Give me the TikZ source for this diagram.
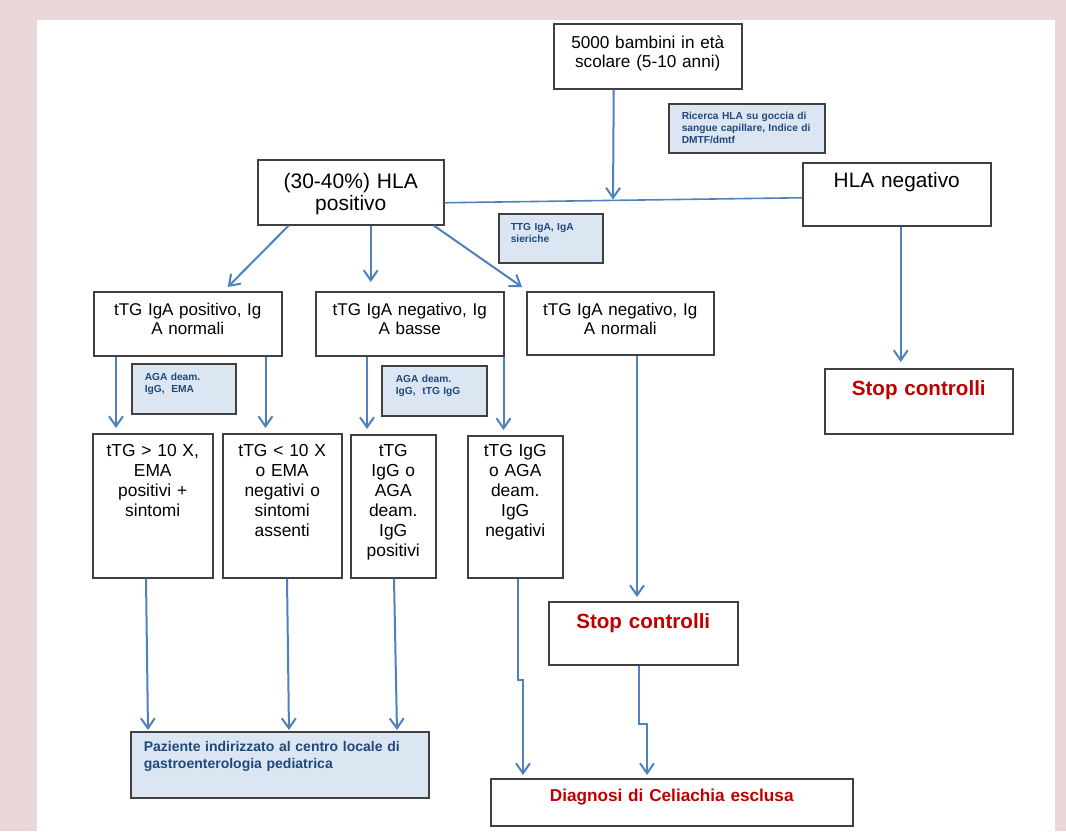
\documentclass[tikz,border=0pt]{standalone}
\usepackage{fontspec}
\setmainfont{Liberation Sans}
\usetikzlibrary{arrows.meta}
\definecolor{pinkbg}{HTML}{EAD7D8}
\definecolor{boxgray}{HTML}{404040}
\definecolor{arrowblue}{HTML}{4F81BD}
\definecolor{notefill}{HTML}{DCE6F2}
\definecolor{notetext}{HTML}{1F497D}
\definecolor{stopred}{HTML}{C00000}
\begin{document}
\begin{tikzpicture}[x=0.5pt,y=-0.5pt,
  box/.style={draw=boxgray, line width=0.75pt, fill=white, anchor=north west, inner sep=0pt, align=center},
  note/.style={box, fill=notefill, align=left, text=notetext, font=\bfseries\fontsize{5.1}{5.9}\selectfont},
  stopbox/.style={box, text=stopred, font=\bfseries\fontsize{10.3}{12}\selectfont},
  arr/.style={draw=arrowblue, line width=1pt, -{Straight Barb[length=5pt,width=7pt]}}]
\fill[pinkbg] (0,0) rectangle (1066,831);
\fill[white] (37,20) rectangle (1055,831);

\node[box, text width=94pt, text height=12.5pt, text depth=20pt, font=\fontsize{8.6}{9.2}\selectfont] (bambini) at (553,23) {5000 bambini in età\\scolare (5-10 anni)};
\node[note, inner xsep=6.5pt, text width=65pt, text height=8pt, text depth=16.5pt] (ricerca) at (668,103) {Ricerca HLA su goccia di\\sangue capillare, Indice di\\DMTF/dmtf};
\node[box, text width=93pt, text height=14.5pt, text depth=18pt, font=\fontsize{10.5}{11}\selectfont] (hlapos) at (257,159) {(30-40\%) HLA\\positivo};
\node[box, text width=94pt, text height=12.5pt, text depth=19pt, font=\fontsize{10.4}{12}\selectfont] (hlaneg) at (802,162) {HLA negativo};
\node[note, inner xsep=6pt, text width=40pt, text height=8.5pt, text depth=16pt] (sieriche) at (498,213) {TTG IgA, IgA\\sieriche};

% secondo livello
\node[box, text width=94pt, text height=12pt, text depth=20pt, font=\fontsize{8.5}{9.5}\selectfont] (posA) at (93,291) {tTG IgA positivo, Ig\\A normali};
\node[box, text width=94pt, text height=12pt, text depth=20pt, font=\fontsize{8.5}{9.5}\selectfont] (negB) at (315,291) {tTG IgA negativo, Ig\\A basse};
\node[box, text width=93.5pt, text height=12pt, text depth=19.5pt, font=\fontsize{8.5}{9.5}\selectfont] (negN) at (526,291) {tTG IgA negativo, Ig\\A normali};
\node[note, inner xsep=6.5pt, text width=39pt, text height=8.5pt, text depth=16.5pt] (aga1) at (131,363) {AGA deam.\\IgG,\ \ EMA};
\node[note, inner xsep=7pt, text width=38.5pt, text height=8.5pt, text depth=16.5pt] (aga2) at (381,365) {AGA deam.\\IgG,\ \ tTG IgG};
\node[stopbox, text width=94pt, text height=13.5pt, text depth=19pt] (stop1) at (824,368) {Stop controlli};

% terzo livello
\node[box, text width=60pt, text height=11.5pt, text depth=60.5pt, font=\fontsize{8.7}{10}\selectfont] (lvA) at (92,433) {tTG > 10 X,\\EMA\\positivi +\\sintomi};
\node[box, text width=59.5pt, text height=11.5pt, text depth=60.5pt, font=\fontsize{8.7}{10}\selectfont] (lvB) at (222,433) {tTG < 10 X\\o EMA\\negativi o\\sintomi\\assenti};
\node[box, text width=42.5pt, text height=11pt, text depth=60.5pt, font=\fontsize{8.7}{10}\selectfont] (lvC) at (350,434) {tTG\\IgG o\\AGA\\deam.\\IgG\\positivi};
\node[box, text width=47.5pt, text height=10.5pt, text depth=60.5pt, font=\fontsize{8.7}{10}\selectfont] (lvD) at (467,435) {tTG IgG\\o AGA\\deam.\\IgG\\negativi};
\node[stopbox, text width=94.5pt, text height=13.5pt, text depth=18pt] (stop2) at (548,601) {Stop controlli};

% fondo
\node[note, inner xsep=6.5pt, text width=136pt, text height=10pt, text depth=23pt, font=\bfseries\fontsize{7}{8.3}\selectfont] (paziente) at (130,731) {Paziente indirizzato al centro locale di\\gastroenterologia pediatrica};
\node[box, text width=181pt, text height=11.5pt, text depth=12pt, text=stopred, font=\bfseries\fontsize{8.6}{10}\selectfont] (diagnosi) at (490,778) {Diagnosi di Celiachia esclusa};

% frecce
\coordinate (join) at (613,199.5);
\draw[arrowblue, line width=0.8pt] ([yshift=-5.25pt]hlapos.east) -- ([yshift=-1.75pt]hlaneg.west);
\draw[arr] ([xshift=-17pt]bambini.south) -- (join);
\draw[arr] ([xshift=-31pt]hlapos.south) -- ([xshift=20pt,yshift=2pt]posA.north);
\draw[arr] ([xshift=10pt]hlapos.south) -- ([xshift=-19.5pt,yshift=4.5pt]negB.north);
\draw[arr] ([xshift=41.5pt]hlapos.south) -- ([xshift=-2pt,yshift=2pt]negN.north west);
\draw[arr, shorten >=3pt] ([xshift=2pt]hlaneg.south) coordinate (n0) -- (n0 |- stop1.north);

\draw[arr, shorten >=2.5pt] ([xshift=11.5pt]posA.south west) coordinate (p1) -- (p1 |- lvA.north);
\draw[arr, shorten >=2.5pt] ([xshift=-8.5pt]posA.south east) coordinate (p2) -- (p2 |- lvB.north);
\draw[arr, shorten >=2.5pt] ([xshift=26pt]negB.south west) coordinate (p3) -- (p3 |- lvC.north);
\draw[arr, shorten >=2.5pt] ([xshift=-0.5pt]negB.south east) coordinate (p4) -- (p4 |- lvD.north);
\draw[arr, shorten >=2pt] ([xshift=55.5pt]negN.south west) coordinate (p5) -- (p5 |- stop2.north);

\draw[arr, shorten >=0.5pt] ([xshift=27pt]lvA.south west) -- ([xshift=9pt]paziente.north west);
\draw[arr, shorten >=0.5pt] ([xshift=32.5pt]lvB.south west) -- ([xshift=79.5pt]paziente.north west);
\draw[arr, shorten >=0.5pt] ([xshift=22pt]lvC.south west) -- ([xshift=133.5pt]paziente.north west);
\draw[arr, shorten >=1.5pt] ([xshift=25.5pt]lvD.south west) -- ++(0,101) -| ([xshift=16.5pt]diagnosi.north west);
\draw[arr, shorten >=1.5pt] ([xshift=45.5pt]stop2.south west) -- ++(0,58) -| ([xshift=78.5pt]diagnosi.north west);
\end{tikzpicture}
\end{document}
